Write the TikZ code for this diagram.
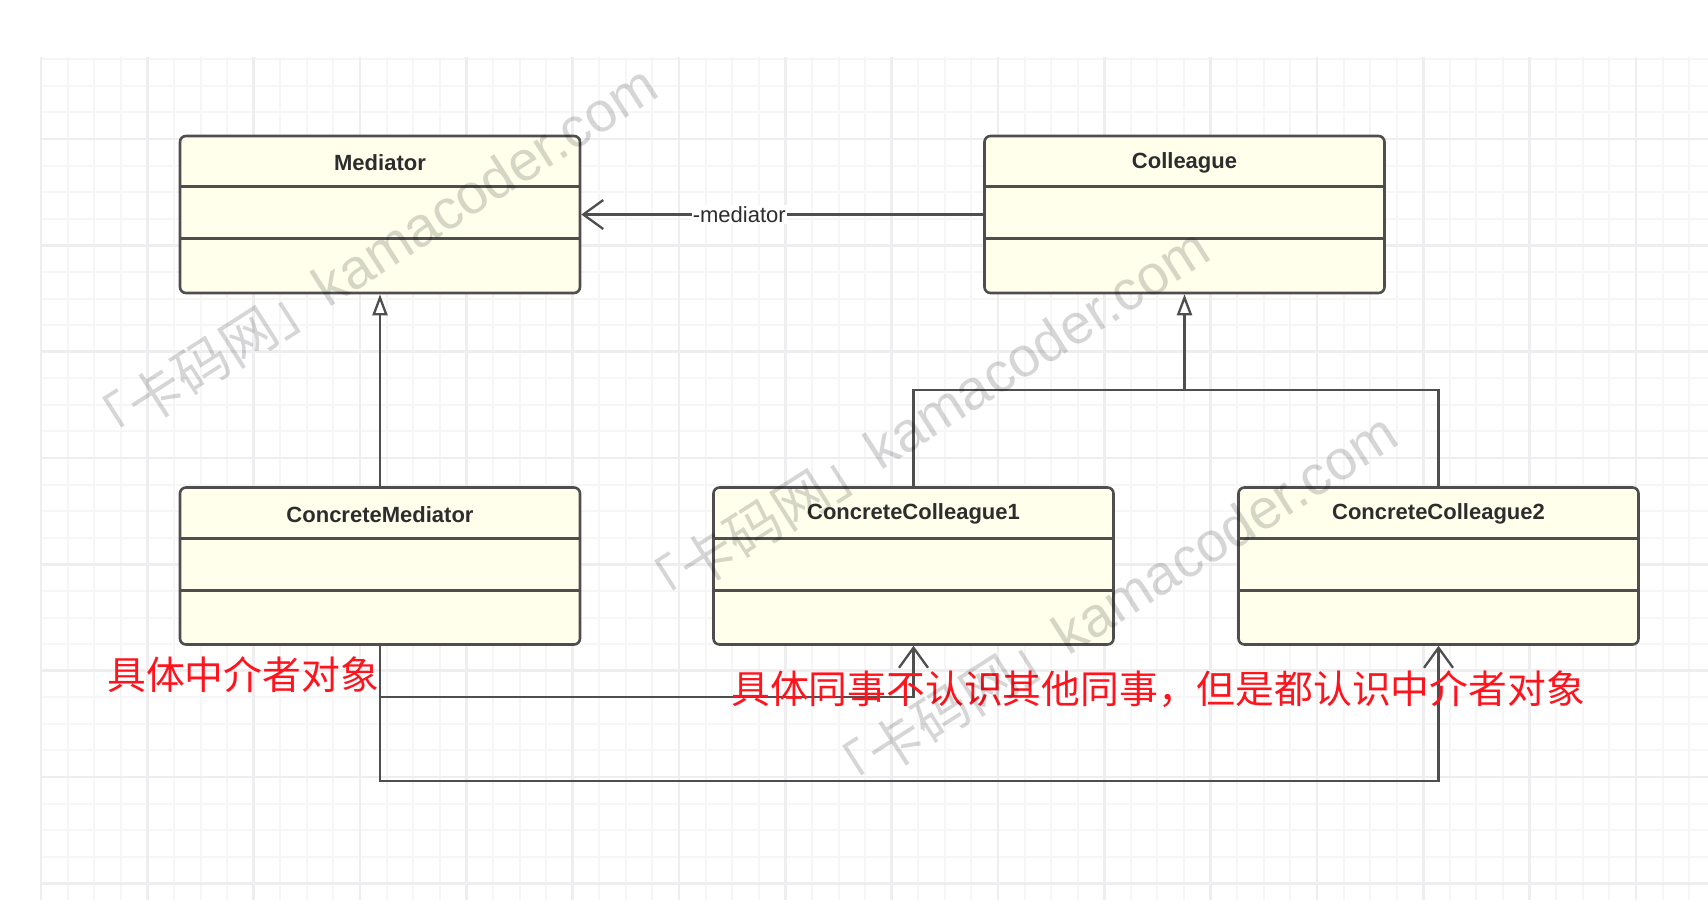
\documentclass[tikz,border=0pt]{standalone}
\usepackage{fontspec}
\setmainfont{Liberation Sans}
\newfontfamily\cjk{Noto Sans CJK SC}
\usetikzlibrary{arrows.meta}
\definecolor{gridminor}{RGB}{246,246,247}
\definecolor{gridmajor}{RGB}{238,238,240}
\definecolor{umlfill}{RGB}{255,255,236}
\definecolor{umlline}{RGB}{78,78,78}
\definecolor{umltext}{RGB}{45,45,45}
\definecolor{notered}{RGB}{255,20,30}
\begin{document}
\begin{tikzpicture}[x=1pt,y=-1pt,
  gminor/.style={draw=gridminor, line width=2pt},
  gmajor/.style={draw=gridmajor, line width=2.6pt},
  umlbox/.style={draw=umlline, line width=2.6pt, fill=umlfill, rounded corners=6pt,
    minimum width=400pt, minimum height=157pt, inner sep=0pt},
  divider/.style={draw=umlline, line width=2.6pt},
  umltitle/.style={font=\bfseries\fontsize{22pt}{26pt}\selectfont, text=umltext, inner sep=0pt},
  conn/.style={draw=umlline, line width=2.3pt},
  assoc/.style={conn, -{Straight Barb[length=20pt,width=29pt]}},
  gen/.style={conn, -{Triangle[open, length=21pt, width=15pt, fill=white]}},
  assoclabel/.style={font=\fontsize{22pt}{26pt}\selectfont, text=umltext, fill=white, inner sep=1pt},
  note/.style={font=\cjk\fontsize{38.8pt}{40pt}\selectfont, text=notered, inner sep=0pt, anchor=west},
  wm/.style={text=black, text opacity=0.16, inner sep=0pt, anchor=base west, rotate=32.6}
]
\fill[white] (0,0) rectangle (1708,900);
\useasboundingbox (0,0) rectangle (1708,900);
% grid
\foreach \k in {0,...,62} \draw[gminor] ({41+\k*26.583},57) -- ({41+\k*26.583},900);
\foreach \j in {-3,...,28} \draw[gminor] (41,{139+\j*26.583}) -- (1708,{139+\j*26.583});
\foreach \k in {0,...,15} \draw[gmajor] ({41+\k*106.333},57) -- ({41+\k*106.333},900);
\foreach \m in {0,...,7} \draw[gmajor] (41,{139+\m*106.333}) -- (1708,{139+\m*106.333});

% classes
\node[umlbox] (med) at (380,214.5) {};
\node[umlbox] (col) at (1184.5,214.5) {};
\node[umlbox] (cm)  at (380,566) {};
\node[umlbox] (cc1) at (913.5,566) {};
\node[umlbox] (cc2) at (1438.5,566) {};
\foreach \n in {med,col,cm,cc1,cc2}{
  \draw[divider] ([yshift=-52pt]\n.north west) -- ([yshift=-52pt]\n.north east);
  \draw[divider] ([yshift=-104pt]\n.north west) -- ([yshift=-104pt]\n.north east);
}
\node[umltitle] (medt) at ([yshift=-28pt]med.north) {Mediator};
\node[umltitle] (colt) at ([yshift=-28pt]col.north) {Colleague};
\node[umltitle] (cmt)  at ([yshift=-28pt]cm.north) {ConcreteMediator};
\node[umltitle] (cc1t) at ([yshift=-28pt]cc1.north) {ConcreteColleague1};
\node[umltitle] (cc2t) at ([yshift=-28pt]cc2.north) {ConcreteColleague2};

% connectors
\draw[assoc] (col.west) -- (med.east) node[assoclabel, pos=0.607] (ml) {-mediator};
\draw[gen] (cm.north) -- (med.south);
\coordinate (jc) at (1184.5,390);
\draw[gen] (jc) -- (col.south);
\draw[conn] (cc1.north) |- (jc) -| (cc2.north);
\coordinate (d1) at (380,697);
\coordinate (d2) at (380,781);
\draw[assoc] (cm.south) -- (d1) -| (cc1.south);
\draw[assoc] (cm.south) -- (d2) -| (cc2.south);

% notes
\node[note] (n1) at (107,675) {具体中介者对象};
\node[note] (n2) at (731,689) {具体同事不认识其他同事，但是都认识中介者对象};

% watermarks
\foreach \p/\q [count=\i] in {97/457, 649/620, 837/805}
  \node[wm] (wm\i) at (\p,\q) {{\cjk\fontsize{55pt}{55pt}\selectfont 「卡码网」}{\fontsize{56pt}{56pt}\selectfont kamacoder.com}};
\end{tikzpicture}
\end{document}
